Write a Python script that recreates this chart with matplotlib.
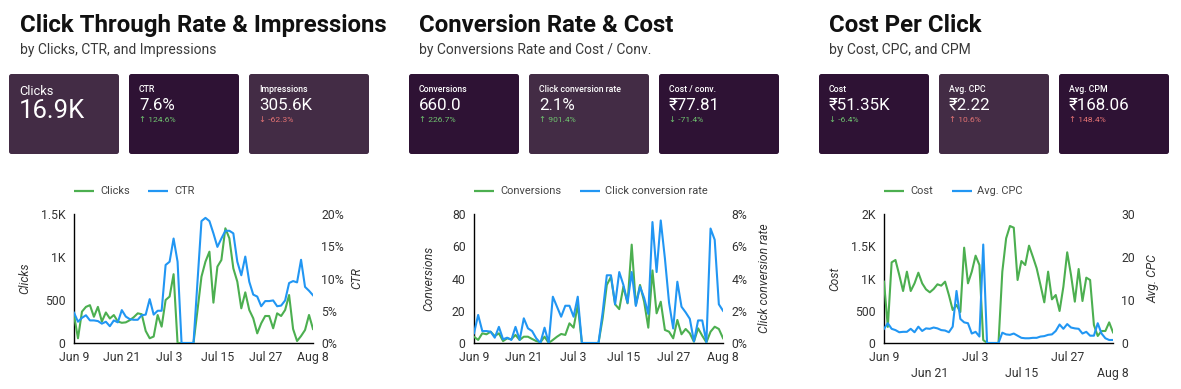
import numpy as np
import pandas as pd
import matplotlib
matplotlib.use("Agg")
import matplotlib.pyplot as plt
import matplotlib.dates as mdates
from matplotlib.patches import FancyBboxPatch

plt.rcParams['font.family'] = ['Roboto', 'DejaVu Sans']

# ---------------- data ----------------
dates = pd.date_range('2024-06-09', '2024-08-08', freq='D')
tick_dates = pd.to_datetime(['2024-06-09', '2024-06-21', '2024-07-03',
                             '2024-07-15', '2024-07-27', '2024-08-08'])
tick_labels = ['Jun 9', 'Jun 21', 'Jul 3', 'Jul 15', 'Jul 27', 'Aug 8']

clicks = [325, 55, 365, 420, 440, 305, 420, 250, 355, 285, 325, 250, 235, 240, 265,
          300, 345, 335, 140, 55, 75, 325, 190, 500, 540, 800, 0, 0, 0, 0, 0,
          380, 771, 946, 1062, 469, 888, 965, 1334, 1217, 868, 713, 403, 589, 384,
          287, 112, 229, 314, 314, 171, 345, 314, 384, 558, 163, 23, 81, 151, 326, 163]
ctr = [4.7, 3.3, 3.9, 4.3, 3.5, 3.5, 3.4, 3.0, 3.3, 2.6, 3.5, 3.2, 5.1, 4.1, 3.7,
       3.6, 3.6, 4.3, 4.4, 6.8, 4.4, 5.0, 5.0, 12.1, 12.6, 16.2, 12.6, 0, 0, 0, 0,
       9.5, 18.9, 19.4, 18.9, 17.0, 14.9, 16.2, 17.4, 17.4, 17.0, 12.6, 10.5, 13.4, 9.5,
       7.5, 7.2, 5.7, 6.5, 6.5, 6.6, 5.7, 5.8, 6.6, 9.3, 9.6, 9.4, 12.9, 8.7, 8.1, 7.4]
conversions = [3.9, 1.9, 6.0, 5.4, 7.0, 4.3, 6.0, 1.2, 2.9, 2.3, 5.0, 1.9, 3.9, 3.9, 2.5,
               1.2, 0.4, 3.9, 0, 1.9, 3.9, 5.6, 5.0, 12.2, 9.5, 23.6, 0, 0, 0, 0, 0,
               15.3, 36, 41, 24, 21, 35, 24.6, 61, 23.6, 36, 25.6, 9.5, 45, 18.4,
               25.6, 8.1, 7.0, 2.9, 14.3, 5.4, 8.7, 6.0, 0.8, 9.1, 4.5, 0.4, 7.0, 10.1, 8.7, 3.0]
conv_rate = [0.6, 1.74, 0.74, 0.74, 0.70, 0.33, 1.0, 0.23, 0.33, 0.19, 1.0, 0.19, 1.53, 0.91, 0.74,
             0.29, 0, 0.95, 0, 2.87, 2.25, 1.63, 2.31, 2.31, 1.63, 2.87, 0, 0, 0, 0, 0,
             1.9, 4.2, 4.2, 2.4, 4.4, 3.6, 2.5, 4.4, 2.3, 3.5, 2.8, 1.8, 7.5, 4.4,
             7.6, 5.25, 2.5, 0.9, 3.8, 2.25, 1.9, 1.5, 0.1, 1.4, 1.4, 0.05, 7.1, 6.4, 2.4, 2.0]
cost = [951, 250, 1250, 1287, 1054, 806, 1106, 806, 925, 1090, 925, 832, 786, 837, 910,
        889, 951, 744, 512, 589, 480, 1478, 925, 1106, 1354, 1209, 46, 0, 0, 0, 0,
        1106, 1623, 1814, 1788, 977, 1271, 1209, 1509, 1338, 1158, 899, 630, 1106, 677,
        744, 496, 873, 1406, 1054, 641, 1147, 651, 1013, 977, 279, 109, 186, 186, 320, 165]
avg_cpc = [3.3, 4.6, 3.3, 3.0, 2.5, 2.6, 2.6, 3.3, 2.5, 3.8, 2.8, 3.4, 3.3, 3.6, 3.4,
           3.0, 2.9, 2.5, 3.8, 12.1, 5.6, 4.8, 4.6, 2.2, 2.6, 1.5, 22.9, 0, 0, 0, 0,
           2.4, 2.0, 1.9, 2.2, 1.7, 1.2, 1.1, 1.1, 1.2, 1.2, 1.5, 1.6, 1.9, 2.0,
           2.8, 4.3, 3.3, 4.4, 3.6, 3.4, 3.3, 2.2, 2.6, 1.7, 1.7, 4.6, 2.2, 1.1, 0.7, 0.7]

titles = ["Click Through Rate & Impressions", "Conversion Rate & Cost", "Cost Per Click"]
subtitles = ["by Clicks, CTR, and Impressions", "by Conversions Rate and Cost / Conv.",
             "by Cost, CPC, and CPM"]

card_labels = [["Clicks", "CTR", "Impressions"],
               ["Conversions", "Click conversion rate", "Cost / conv."],
               ["Cost", "Avg. CPC", "Avg. CPM"]]
card_values = [["16.9K", "7.6%", "305.6K"],
               ["660.0", "2.1%", "₹77.81"],
               ["₹51.35K", "₹2.22", "₹168.06"]]
card_changes = [[None, "124.6%", "-62.3%"],
                ["226.7%", "901.4%", "-71.4%"],
                ["-6.4%", "10.6%", "148.4%"]]
card_good = [[None, True, False],
             [True, True, True],
             [True, False, False]]

series_left = [clicks, conversions, cost]
series_right = [ctr, conv_rate, avg_cpc]
left_names = ["Clicks", "Conversions", "Cost"]
right_names = ["CTR", "Click conversion rate", "Avg. CPC"]
left_ticks = [[0, 500, 1000, 1500], [0, 20, 40, 60, 80], [0, 500, 1000, 1500, 2000]]
left_ticklabels = [["0", "500", "1K", "1.5K"], ["0", "20", "40", "60", "80"],
                   ["0", "500", "1K", "1.5K", "2K"]]
right_ticks = [[0, 5, 10, 15, 20], [0, 2, 4, 6, 8], [0, 10, 20, 30]]
right_ticklabels = [["0%", "5%", "10%", "15%", "20%"], ["0%", "2%", "4%", "6%", "8%"],
                    ["0", "10", "20", "30"]]

# ---------------- layout / style ----------------
W, H = 1181, 389
GREEN = '#4caf50'
BLUE = '#2196f3'
DARK = '#2e1234'
LIGHT = '#432c45'
UPC = '#6fc36f'
DNC = '#e57373'
TXT = '#333333'

fig = plt.figure(figsize=(W / 100, H / 100), dpi=100)
fig.patch.set_facecolor('white')
ov = fig.add_axes([0, 0, 1, 1])
ov.set_xlim(0, W)
ov.set_ylim(H, 0)
ov.axis('off')

panel_x = [20, 419, 829]
card_x = [[9, 129, 249], [409, 529, 659], [819, 939, 1059]]
card_w = [[110, 110, 120], [110, 120, 120], [110, 110, 110]]
card_shade = [[LIGHT, DARK, LIGHT], [DARK, LIGHT, DARK], [DARK, LIGHT, DARK]]
card_top, card_h = 74, 80
axes_px = [(74, 313), (474, 723), (884, 1113)]
ax_top, ax_bot = 214, 343
legend_px = [((74, 100), (148, 174)), ((474, 500), (580, 605)), ((884, 910), (952, 977))]
ylab_left_px = [25, 429, 835]
ylab_right_px = [357, 765, 1153]

for p in range(3):
    ov.text(panel_x[p], 31.5, titles[p], fontsize=17.3, fontweight='bold',
            color='#111111', ha='left', va='baseline')
    ov.text(panel_x[p], 54, subtitles[p], fontsize=10, color='#3a3a3a',
            ha='left', va='baseline')
    for c in range(3):
        x0 = card_x[p][c]
        box = FancyBboxPatch((x0, card_top), card_w[p][c], card_h,
                             boxstyle='round,pad=0,rounding_size=2.5',
                             facecolor=card_shade[p][c], edgecolor='none')
        ov.add_patch(box)
        if card_changes[p][c] is None:
            ov.text(x0 + 10, 95, card_labels[p][c], fontsize=9.2, color='white',
                    ha='left', va='baseline')
            ov.text(x0 + 10, 118, card_values[p][c], fontsize=18.5, color='white',
                    ha='left', va='baseline')
        else:
            ov.text(x0 + 10, 91.7, card_labels[p][c], fontsize=6.3, color='white',
                    fontweight='medium', ha='left', va='baseline')
            ov.text(x0 + 10, 110, card_values[p][c], fontsize=12.2, color='white',
                    ha='left', va='baseline')
            chg = card_changes[p][c]
            arrow = '↓' if chg.startswith('-') else '↑'
            col = UPC if card_good[p][c] else DNC
            ov.text(x0 + 10, 121.7, arrow + ' ' + chg, fontsize=6.1, color=col,
                    ha='left', va='baseline')

    # legend
    (g0, gt), (b0, bt) = legend_px[p]
    ov.plot([g0, g0 + 20], [191, 191], color=GREEN, lw=1.6, solid_capstyle='butt')
    ov.text(gt, 191, left_names[p], fontsize=7.9, color='#444444', ha='left', va='center')
    ov.plot([b0, b0 + 20], [191, 191], color=BLUE, lw=1.6, solid_capstyle='butt')
    ov.text(bt, 191, right_names[p], fontsize=7.9, color='#444444', ha='left', va='center')

    # chart
    xl, xr = axes_px[p]
    ax = fig.add_axes([xl / W, 1 - ax_bot / H, (xr - xl) / W, (ax_bot - ax_top) / H])
    ax2 = ax.twinx()
    ax.plot(dates, series_left[p], color=GREEN, lw=1.5, zorder=3)
    ax2.plot(dates, series_right[p], color=BLUE, lw=1.5, zorder=3)
    ax.set_xlim(dates[0], dates[-1])
    ax.set_ylim(left_ticks[p][0], left_ticks[p][-1])
    ax2.set_ylim(right_ticks[p][0], right_ticks[p][-1])
    ax.set_yticks(left_ticks[p])
    ax.set_yticklabels(left_ticklabels[p])
    ax2.set_yticks(right_ticks[p])
    ax2.set_yticklabels(right_ticklabels[p])
    ax.set_xticks(tick_dates)
    if p == 2:
        ax.set_xticklabels([lab if k % 2 == 0 else '\n' + lab
                            for k, lab in enumerate(tick_labels)], linespacing=1.3)
    else:
        ax.set_xticklabels(tick_labels)
    for a in (ax, ax2):
        for s in a.spines.values():
            s.set_visible(False)
        a.tick_params(length=0, labelsize=8.8, labelcolor=TXT, pad=6)
        a.set_facecolor('none')
    ax.spines['left'].set_visible(True)
    ax.spines['bottom'].set_visible(True)
    ax.spines['left'].set_color('black')
    ax.spines['bottom'].set_color('black')
    ax.spines['left'].set_linewidth(1.0)
    ax.spines['bottom'].set_linewidth(1.0)
    ax.set_ylabel(left_names[p], fontsize=8.7, style='italic', color=TXT)
    ax2.set_ylabel(right_names[p], fontsize=8.7, style='italic', color=TXT, rotation=90)
    ax.yaxis.set_label_coords((ylab_left_px[p] - xl) / (xr - xl), 0.5)
    ax2.yaxis.set_label_coords((ylab_right_px[p] - xl) / (xr - xl), 0.5)
    ax.yaxis.label.set_va('center')
    ax2.yaxis.label.set_va('center')

fig.savefig('out.png', dpi=100, facecolor='white')
